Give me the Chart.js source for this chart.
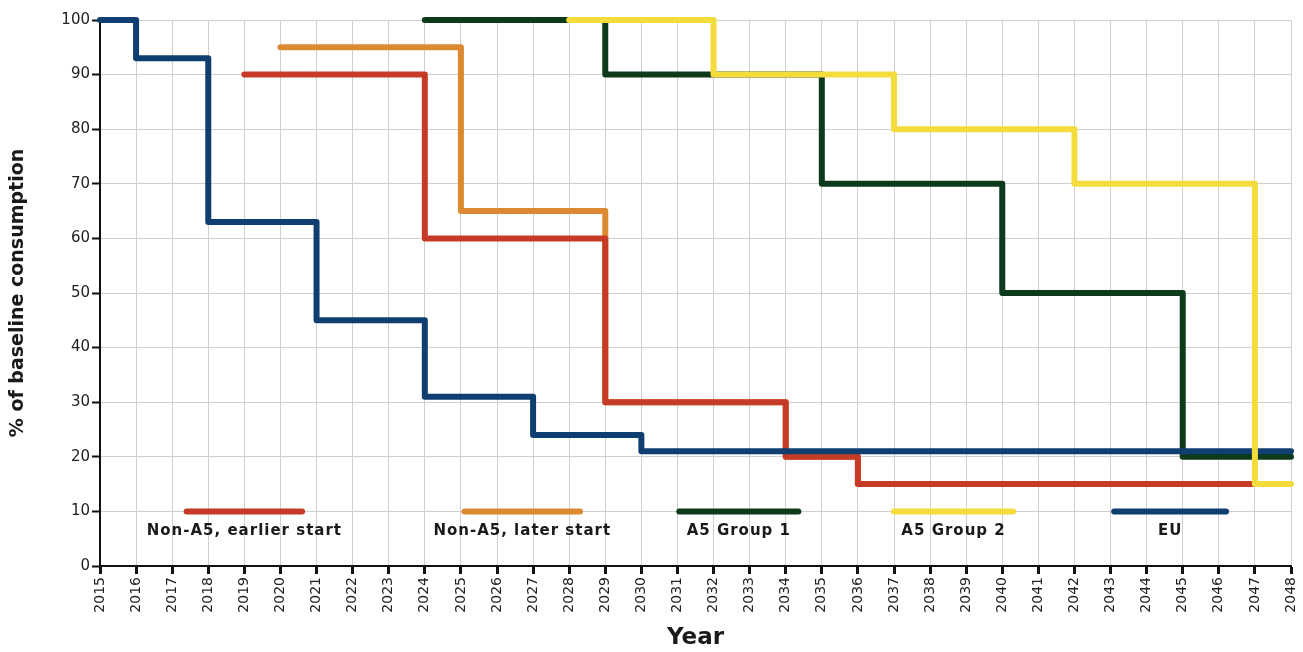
<!DOCTYPE html>
<html>
<head>
<meta charset="utf-8">
<script src="https://cdn.jsdelivr.net/npm/chart.js@4.4.1/dist/chart.umd.min.js"></script>
<style>
  html, body { margin: 0; padding: 0; background: #fff; }
  #wrap { width: 1303px; height: 652px; position: relative; }
</style>
</head>
<body>
<div id="wrap"><canvas id="phaseChart"></canvas></div>
<script>
// Phase-down schedules (% of baseline), step changes at the given years
const euYears = [2015, 2016, 2018, 2021, 2024, 2027, 2030, 2048];
const euValues = [100, 93, 63, 45, 31, 24, 21, 21];

const earlyYears = [2019, 2024, 2029, 2034, 2036, 2047];
const earlyValues = [90, 60, 30, 20, 15, 15];

const laterYears = [2020, 2025, 2029, 2034, 2036, 2047];
const laterValues = [95, 65, 30, 20, 15, 15];

const group1Years = [2024, 2029, 2035, 2040, 2045, 2048];
const group1Values = [100, 90, 70, 50, 20, 20];

const group2Years = [2028, 2032, 2037, 2042, 2047, 2048];
const group2Values = [100, 90, 80, 70, 15, 15];

const seriesNames = ["Non-A5, earlier start", "Non-A5, later start", "A5 Group 1", "A5 Group 2", "EU"];
const yTicks = [0, 10, 20, 30, 40, 50, 60, 70, 80, 90, 100];

const COLORS = {
  early: "#c63b27",
  later: "#dc8a32",
  group1: "#0d3a1b",
  group2: "#f3dc3c",
  eu: "#0f3e70",
};

const toPoints = (xs, ys) => xs.map((x, i) => ({ x: x, y: ys[i] }));

function stepLine(label, xs, ys, color, order) {
  return {
    label: label,
    data: toPoints(xs, ys),
    borderColor: color,
    backgroundColor: color,
    borderWidth: 6,
    borderJoinStyle: "round",
    borderCapStyle: "round",
    pointRadius: 0,
    stepped: "before",
    fill: false,
    clip: 8,
    order: order,
  };
}

// legend drawn inside the plot, lines sitting on the 10% gridline
const inPlotLegend = {
  id: "inPlotLegend",
  afterDatasetsDraw(chart, args, opts) {
    const { ctx, scales } = chart;
    const yLine = scales.y.getPixelForValue(opts.level);
    ctx.save();
    opts.items.forEach((it) => {
      const x1 = scales.x.getPixelForValue(it.from);
      const x2 = scales.x.getPixelForValue(it.to);
      ctx.strokeStyle = it.color;
      ctx.lineWidth = 6;
      ctx.lineCap = "round";
      ctx.beginPath();
      ctx.moveTo(x1, yLine);
      ctx.lineTo(x2, yLine);
      ctx.stroke();
      ctx.fillStyle = "#1a1a1a";
      ctx.font = "bold 15px 'DejaVu Sans', sans-serif";
      ctx.letterSpacing = "1px";
      ctx.textAlign = "center";
      ctx.textBaseline = "middle";
      ctx.fillText(it.text, (x1 + x2) / 2, yLine + 20);
    });
    ctx.restore();
  },
};

const ctx = document.getElementById("phaseChart").getContext("2d");
new Chart(ctx, {
  type: "line",
  data: {
    datasets: [
      stepLine(seriesNames[3], group2Years, group2Values, COLORS.group2, 1),
      stepLine(seriesNames[4], euYears, euValues, COLORS.eu, 2),
      stepLine(seriesNames[2], group1Years, group1Values, COLORS.group1, 3),
      stepLine(seriesNames[0], earlyYears, earlyValues, COLORS.early, 4),
      stepLine(seriesNames[1], laterYears, laterValues, COLORS.later, 5),
    ],
  },
  options: {
    responsive: true,
    maintainAspectRatio: false,
    animation: false,
    layout: { padding: { left: 0, right: 12, top: 20, bottom: 0 } },
    plugins: {
      legend: { display: false },
      tooltip: { enabled: false },
      inPlotLegend: {
        level: 10,
        items: [
          { text: seriesNames[0], color: COLORS.early, from: 2017.4, to: 2020.6 },
          { text: seriesNames[1], color: COLORS.later, from: 2025.1, to: 2028.3 },
          { text: seriesNames[2], color: COLORS.group1, from: 2031.05, to: 2034.35 },
          { text: seriesNames[3], color: COLORS.group2, from: 2037.0, to: 2040.3 },
          { text: seriesNames[4], color: COLORS.eu, from: 2043.1, to: 2046.2 },
        ],
      },
    },
    scales: {
      x: {
        type: "linear",
        min: 2015,
        max: 2048,
        afterFit: (scale) => {
          scale.height = 86;
          scale.paddingLeft = 0;
          scale.paddingRight = 0;
        },
        ticks: {
          stepSize: 1,
          autoSkip: false,
          minRotation: 90,
          maxRotation: 90,
          padding: 3,
          color: "#222",
          font: { family: "'DejaVu Sans', sans-serif", size: 14 },
          callback: (v) => String(v),
        },
        grid: {
          color: "#cfcfcf",
          lineWidth: 1,
          tickColor: "#111",
          tickLength: 8,
          tickWidth: 3,
        },
        border: { color: "#111", width: 2 },
        title: {
          display: true,
          text: "Year",
          color: "#1a1a1a",
          font: { family: "'DejaVu Sans', sans-serif", size: 23, weight: "bold" },
          padding: { top: 0, bottom: 0 },
        },
      },
      y: {
        min: 0,
        max: 100,
        afterFit: (scale) => { scale.width = 100; },
        afterBuildTicks: (scale) => { scale.ticks = yTicks.map((v) => ({ value: v })); },
        ticks: {
          padding: 2,
          color: "#222",
          font: { family: "'DejaVu Sans', sans-serif", size: 15 },
        },
        grid: {
          color: "#cfcfcf",
          lineWidth: 1,
          tickColor: "#111",
          tickLength: 8,
          tickWidth: 2,
        },
        border: { color: "#111", width: 2 },
        title: {
          display: true,
          text: "% of baseline consumption",
          color: "#1a1a1a",
          font: { family: "'DejaVu Sans', sans-serif", size: 19, weight: "bold" },
          padding: { top: 7, bottom: 0 },
        },
      },
    },
  },
  plugins: [inPlotLegend],
});
</script>
</body>
</html>
